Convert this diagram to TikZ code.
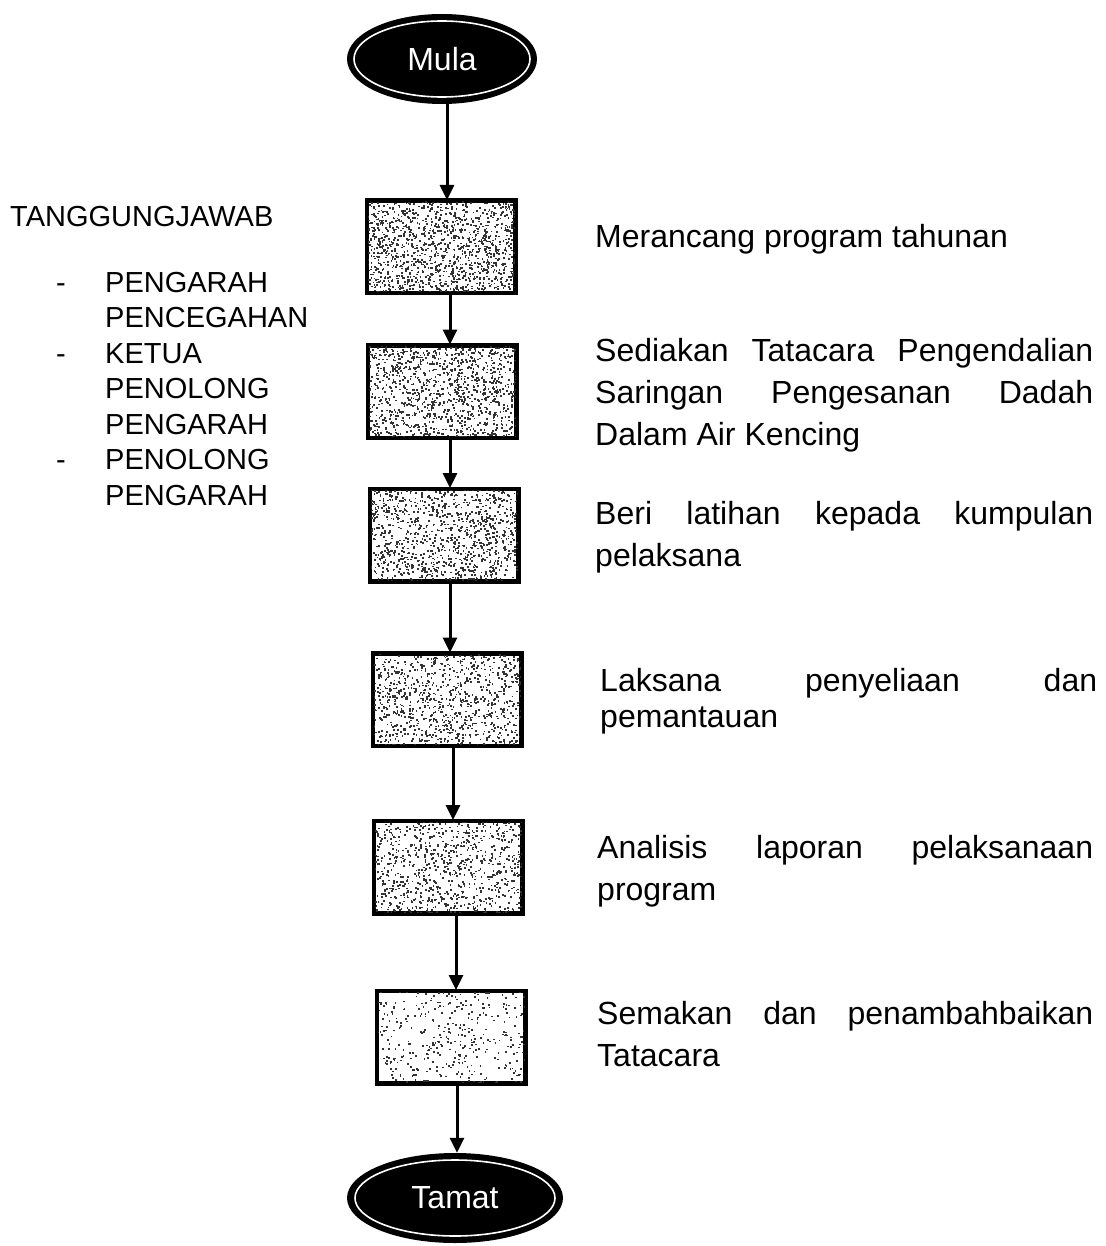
\documentclass[tikz,border=0pt]{standalone}
\usepackage{fontspec}
\setmainfont{Liberation Sans}
\usetikzlibrary{arrows.meta,shapes.geometric}
\newcommand\stippleBox[2]{%
  \begin{scope}
    \clip (#1.south west) rectangle (#1.north east);
    \foreach \k in {1,...,#2}{%
      \fill[black!80] ([shift={(rand*74,rand*46)}]#1.center) rectangle ++(1.7,1.7);}
  \end{scope}}
\begin{document}
\begin{tikzpicture}[x=1pt,y=-1pt,
  stepbox/.style={draw=black, line width=3pt, minimum width=147pt, minimum height=91pt, inner sep=0pt, fill=white},
  term/.style={ellipse, fill=black, inner sep=0pt, text=white, font=\fontsize{32}{32}\selectfont},
  arr/.style={line width=3pt, -{Triangle[length=15pt,width=14pt]}},
  desc/.style={anchor=base west, inner sep=0pt, font=\fontsize{32}{38}\selectfont},
  resp/.style={anchor=base west, inner sep=0pt, font=\fontsize{29}{35}\selectfont}]
\useasboundingbox[fill=white] (0,0) rectangle (1105,1246);
\pgfmathsetseed{4242}

% terminals
\node[term, minimum width=190pt, minimum height=90pt] (mula) at (442,59) {Mula};
\draw[white, line width=1.6pt] (mula.center) ellipse [x radius=88, y radius=38];
\node[term, minimum width=216pt, minimum height=90pt] (tamat) at (455,1198) {Tamat};
\draw[white, line width=1.6pt] (tamat.center) ellipse [x radius=100, y radius=38];

% process boxes
\node[stepbox] (b1) at (441,247) {};
\node[stepbox] (b2) at (442,391.5) {};
\node[stepbox] (b3) at (444,535) {};
\node[stepbox] (b4) at (447,699.5) {};
\node[stepbox] (b5) at (448,867) {};
\node[stepbox] (b6) at (451,1037) {};
\stippleBox{b1}{1300}
\stippleBox{b2}{1150}
\stippleBox{b3}{1100}
\stippleBox{b4}{950}
\stippleBox{b5}{850}
\stippleBox{b6}{380}
\foreach \b in {b1,b2,b3,b4,b5,b6}{\draw[line width=3pt] (\b.south west) rectangle (\b.north east);}

% connectors
\draw[arr] (mula.south -| 447,0) -- (b1.north -| 447,0);
\draw[arr] (b1.south -| 450,0) -- (b2.north -| 450,0);
\draw[arr] (b2.south -| 450,0) -- (b3.north -| 450,0);
\draw[arr] (b3.south -| 450,0) -- (b4.north -| 450,0);
\draw[arr] (b4.south -| 453,0) -- (b5.north -| 453,0);
\draw[arr] (b5.south -| 456,0) -- (b6.north -| 456,0);
\draw[arr] (b6.south -| 457,0) -- (tamat.north -| 457,0);

% descriptions
\node[desc] (t1) at (595,248) {Merancang program tahunan};
\node[desc] (t2a) at (595,361) {\makebox[498pt][s]{Sediakan Tatacara Pengendalian}};
\node[desc] (t2b) at (595,403) {\makebox[498pt][s]{Saringan Pengesanan Dadah}};
\node[desc] (t2c) at (595,445) {Dalam Air Kencing};
\node[desc] (t3a) at (595,524) {\makebox[498pt][s]{Beri latihan kepada kumpulan}};
\node[desc] (t3b) at (595,566) {pelaksana};
\node[desc] (t4a) at (600,691) {\makebox[497pt][s]{Laksana penyeliaan dan}};
\node[desc] (t4b) at (600,727) {pemantauan};
\node[desc] (t5a) at (597,858) {\makebox[496pt][s]{Analisis laporan pelaksanaan}};
\node[desc] (t5b) at (597,900) {program};
\node[desc] (t6a) at (597,1024) {\makebox[496pt][s]{Semakan dan penambahbaikan}};
\node[desc] (t6b) at (597,1066) {Tatacara};

% responsibility list
\node[resp] (r0) at (10,227) {TANGGUNGJAWAB};
\node[resp] (d1) at (56,292) {-};
\node[resp] (r1) at (105,292) {PENGARAH};
\node[resp] (r2) at (105,327) {PENCEGAHAN};
\node[resp] (d2) at (56,363) {-};
\node[resp] (r3) at (105,363) {KETUA};
\node[resp] (r4) at (105,398) {PENOLONG};
\node[resp] (r5) at (105,434) {PENGARAH};
\node[resp] (d3) at (56,469) {-};
\node[resp] (r6) at (105,469) {PENOLONG};
\node[resp] (r7) at (105,505) {PENGARAH};
\end{tikzpicture}
\end{document}
